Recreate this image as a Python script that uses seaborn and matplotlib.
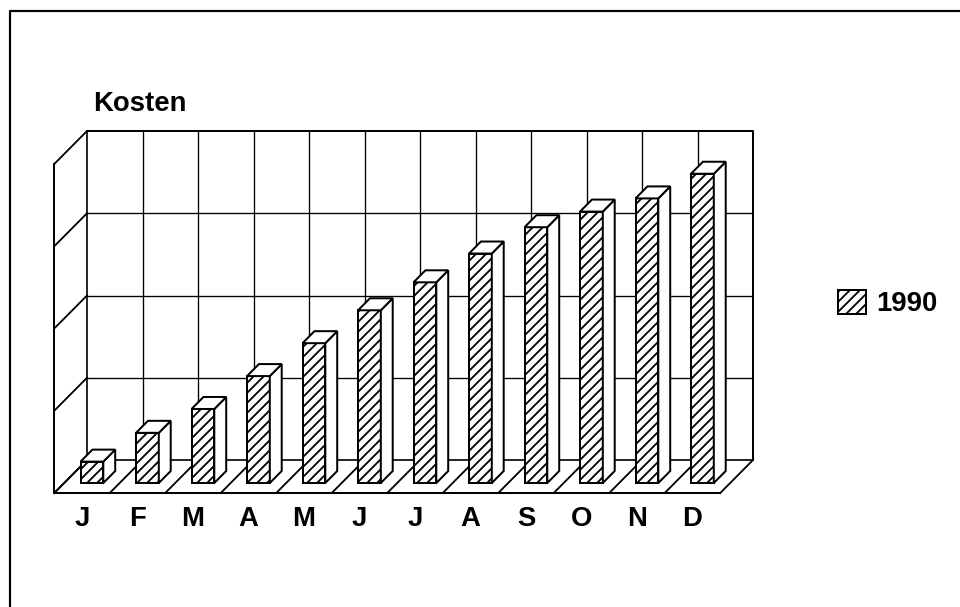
import numpy as np
import pandas as pd
import matplotlib
matplotlib.use("Agg")
import matplotlib.pyplot as plt
from matplotlib.patches import Polygon, Patch
from matplotlib.lines import Line2D
import seaborn as sns

# ---- data ----
months = ["Jan", "Feb", "Mar", "Apr", "May", "Jun",
          "Jul", "Aug", "Sep", "Oct", "Nov", "Dec"]
tick_labels = ["J", "F", "M", "A", "M", "J", "J", "A", "S", "O", "N", "D"]
kosten_1990 = [0.26, 0.61, 0.90, 1.30, 1.70, 2.10,
               2.44, 2.79, 3.11, 3.30, 3.46, 3.76]
series_name = "1990"
title = "Kosten"
grid_levels = [0, 1, 2, 3, 4]

# ---- style ----
sns.set_theme(style="white")
plt.rcParams["font.family"] = ["Liberation Sans", "DejaVu Sans"]
plt.rcParams["hatch.linewidth"] = 1.1
plt.rcParams["hatch.color"] = "black"
plt.rcParams["text.color"] = "black"

DPI = 120
W, H = 960, 607
FS = 16.5
HATCH = "////"
BAR_LW = 1.2
fig = plt.figure(figsize=(W / DPI, H / DPI), dpi=DPI, facecolor="white")
ax = fig.add_axes([82 / W, 1 - 460 / H, 671 / W, 329 / H])
ax.set_facecolor("white")

df = pd.DataFrame({"month": months, "kosten": kosten_1990})
sns.barplot(data=df, x="month", y="kosten", order=months, width=0.41,
            color="white", saturation=1, edgecolor="black", linewidth=BAR_LW,
            hatch=HATCH, errorbar=None, ax=ax, zorder=3)

n = len(months)
ax.set_xlim(-0.5, n - 0.5)
ax.set_ylim(grid_levels[0], grid_levels[-1])

# pixel -> data conversions for the oblique depth offset
pos = ax.get_position()
ux = n / (pos.width * W)
uy = (grid_levels[-1] - grid_levels[0]) / (pos.height * H)
FLOOR, BAR_FRONT, BAR_BACK = 33, 23, 11
fx, fy = FLOOR * ux, FLOOR * uy

lkw = dict(color="black", clip_on=False, zorder=1, solid_capstyle="projecting")
bounds = np.arange(n + 1) - 0.5

# back wall grid
ax.hlines(grid_levels[1:-1], -0.5, n - 0.5, color="black", lw=0.8, zorder=1)
ax.vlines(bounds[1:-1], grid_levels[0], grid_levels[-1], color="black", lw=0.8, zorder=1)
ax.plot([-0.5, n - 0.5, n - 0.5], [grid_levels[-1], grid_levels[-1], grid_levels[0]], lw=1.2, **lkw)
ax.plot([-0.5, -0.5], [grid_levels[0], grid_levels[-1]], lw=1.0, **lkw)
ax.plot([-0.5, n - 0.5], [grid_levels[0], grid_levels[0]], lw=1.0, **lkw)

# left wall
for g in grid_levels:
    ax.plot([-0.5, -0.5 - fx], [g, g - fy], lw=1.1, **lkw)
ax.plot([-0.5 - fx, -0.5 - fx], [grid_levels[0] - fy, grid_levels[-1] - fy], lw=1.2, **lkw)

# floor
ax.plot([-0.5 - fx, n - 0.5 - fx], [grid_levels[0] - fy] * 2, lw=1.2, **lkw)
for b in bounds:
    ax.plot([b, b - fx], [0, -fy], lw=1.1, **lkw)

# bars: shift front faces forward, add side and top faces
fxo, fyo = BAR_FRONT * ux, BAR_FRONT * uy
bxo, byo = BAR_BACK * ux, BAR_BACK * uy
bars = list(ax.patches)
for p in bars:
    x0 = p.get_x()
    w = p.get_width()
    h = p.get_height()
    x1 = x0 + w
    p.set_x(x0 - fxo)
    p.set_y(p.get_y() - fyo)
    p.set_facecolor("white")
    p.set_clip_on(False)
    p.set_zorder(3)
    side = Polygon([(x1 - fxo, -fyo), (x1 - bxo, -byo), (x1 - bxo, h - byo), (x1 - fxo, h - fyo)],
                   closed=True, fc="white", ec="black", lw=BAR_LW, zorder=3, clip_on=False)
    top = Polygon([(x0 - fxo, h - fyo), (x1 - fxo, h - fyo), (x1 - bxo, h - byo), (x0 - bxo, h - byo)],
                  closed=True, fc="white", ec="black", lw=BAR_LW, zorder=3, clip_on=False)
    ax.add_patch(side)
    ax.add_patch(top)

# ticks
ax.set_xticks(np.arange(n) - fx, tick_labels)
ax.tick_params(axis="x", length=0, pad=27.5, labelsize=FS, colors="black")
for t in ax.get_xticklabels():
    t.set_fontweight("bold")
ax.set_yticks([])
ax.set_xlabel("")
ax.set_ylabel("")
for s in ax.spines.values():
    s.set_visible(False)

# legend
handle = Patch(facecolor="white", edgecolor="black", hatch=HATCH, linewidth=BAR_LW)
fig.legend([handle], [series_name], loc="center left",
           bbox_to_anchor=(838 / W, 1 - 303.5 / H), frameon=False, borderpad=0,
           borderaxespad=0, handlelength=1.02, handleheight=1.0, handletextpad=0.36,
           labelcolor="black", prop={"weight": "bold", "size": FS})

# title
fig.text(93 / W, 1 - 111 / H, title, ha="left", va="baseline",
         fontsize=FS, fontweight="bold", color="black")

# outer frame
fig.add_artist(Line2D([10 / W, 10 / W, 1], [0, 1 - 11 / H, 1 - 11 / H],
                      color="black", lw=1.3, transform=fig.transFigure))

fig.savefig("out.png", dpi=DPI, facecolor="white")
